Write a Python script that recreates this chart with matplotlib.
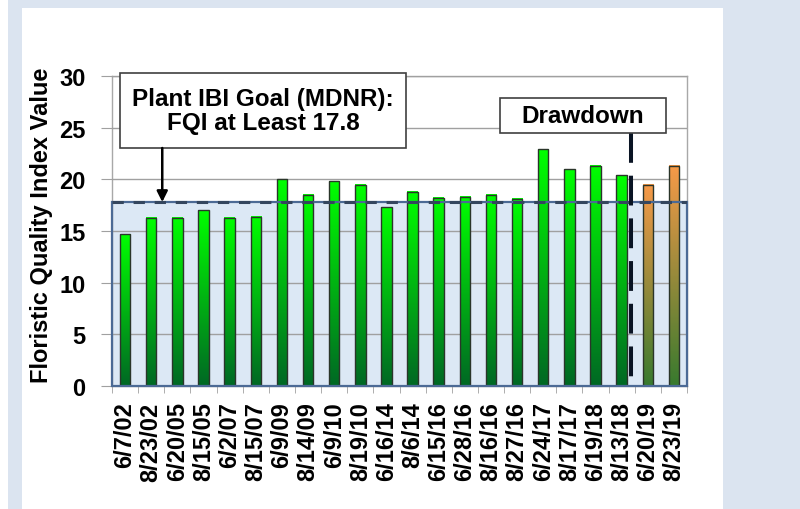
import numpy as np
import matplotlib.pyplot as plt
from matplotlib.patches import Rectangle
from matplotlib.colors import to_rgb

plt.rcParams['font.family'] = ['Liberation Sans', 'DejaVu Sans']
plt.rcParams['font.weight'] = 'bold'

dates = ['6/7/02', '8/23/02', '6/20/05', '8/15/05', '6/2/07', '8/15/07',
         '6/9/09', '8/14/09', '6/9/10', '8/19/10', '6/16/14', '8/6/14',
         '6/15/16', '6/28/16', '8/16/16', '8/27/16', '6/24/17', '8/17/17',
         '6/19/18', '8/13/18', '6/20/19', '8/23/19']
fqi = [14.7, 16.3, 16.3, 17.0, 16.3, 16.4, 20.0, 18.5, 19.8, 19.5, 17.3,
       18.8, 18.2, 18.3, 18.5, 18.1, 22.9, 21.0, 21.3, 20.4, 19.5, 21.3]
post_drawdown = [False] * 20 + [True] * 2
goal = 17.8
drawdown_after = 19  # index of last sample before drawdown

fig = plt.figure(figsize=(8, 5.1), dpi=100)
fig.patch.set_facecolor('#dbe4f0')
# white panel and thin white strip on the far left
fig.patches.append(Rectangle((22 / 800, 0), 701 / 800, 501 / 510,
                             transform=fig.transFigure, facecolor='white',
                             edgecolor='none', zorder=-10))
fig.patches.append(Rectangle((0, 0), 8 / 800, 1, transform=fig.transFigure,
                             facecolor='white', edgecolor='none', zorder=-10))

ax = fig.add_axes([112 / 800, 123 / 510, 575 / 800, 310 / 510])
ax.set_zorder(1)
ax.set_facecolor('white')

# goal region
ax.axhspan(0, goal, facecolor='#dce8f5', edgecolor='none', zorder=1)
ax.yaxis.grid(True, color='#a0a0a0', lw=1, zorder=1.5)
ax.set_axisbelow(False)
for line in ax.get_ygridlines():
    line.set_zorder(1.5)

# gradient bars
w = 0.4


def gradient(top, bottom, n=100):
    t = np.linspace(0, 1, n)[:, None]
    a, b = np.array(to_rgb(bottom)), np.array(to_rgb(top))
    return (a + (b - a) * t)[:, None, :]


for i, (v, post) in enumerate(zip(fqi, post_drawdown)):
    if post:
        img = gradient('#f79a48', '#387a2e')
    else:
        img = gradient('#00ff00', '#006824')
    ax.imshow(img, extent=(i - w / 2, i + w / 2, 0, v), origin='lower',
              aspect='auto', zorder=3, interpolation='bilinear')
    ax.add_patch(Rectangle((i - w / 2, 0), w, v, facecolor='none',
                           edgecolor='#2a352a', lw=1, zorder=3.2))

# goal outline + dashed line
ax.add_patch(Rectangle((-0.5, 0), len(dates), goal, facecolor='none',
                       edgecolor='#4c6a95', lw=1.6, zorder=4, clip_on=False))
ax.axhline(goal, color='#34465e', lw=2.2, ls=(0, (3.7, 3.2)), zorder=4.1)

ax.set_xlim(-0.5, len(dates) - 0.5)
ax.set_ylim(0, 30)
ax.set_yticks(range(0, 31, 5))
ax.set_xticks(range(len(dates)))
ax.set_xticklabels(dates, rotation=90, fontsize=17, fontweight='bold')
ax.set_xticks(np.arange(-0.5, len(dates), 1), minor=True)
ax.tick_params(axis='x', which='major', length=0, pad=11)
ax.tick_params(axis='x', which='minor', length=5, color='#a0a0a0')
ax.tick_params(axis='y', length=8, color='#a0a0a0', pad=11, labelsize=17)
for s in ax.spines.values():
    s.set_color('#a8a8a8')
    s.set_linewidth(1)

ax.set_ylabel('Floristic Quality Index Value', fontsize=17, fontweight='bold')
ax.yaxis.set_label_coords(-0.102, 0.523)

# annotation boxes
ax.add_patch(Rectangle((0.0139, 0.7677), 0.4974, 0.242, transform=ax.transAxes,
                       facecolor='white', edgecolor='#404040', lw=1.2,
                       zorder=5, clip_on=False))
ax.text(0.2626, 0.8887, 'Plant IBI Goal (MDNR):\nFQI at Least 17.8',
        transform=ax.transAxes, ha='center', va='center', fontsize=17.5,
        fontweight='bold', linespacing=1.05, zorder=6)
ax.annotate('', xy=(0.0874, goal / 30), xytext=(0.0874, 0.7677),
            xycoords='axes fraction', textcoords='axes fraction',
            arrowprops=dict(arrowstyle='-|>', color='black', lw=1.8,
                            mutation_scale=16, shrinkA=0, shrinkB=0),
            zorder=6)

ax.add_patch(Rectangle((0.6748, 0.816), 0.2887, 0.113, transform=ax.transAxes,
                       facecolor='white', edgecolor='#404040', lw=1.2,
                       zorder=5, clip_on=False))
ax.text(0.8191, 0.8726, 'Drawdown', transform=ax.transAxes, ha='center',
        va='center', fontsize=17.5, fontweight='bold', zorder=6)

xd = drawdown_after + 0.37
ax.plot([xd, xd], [0.816 * 30, 0], color='#0a1424', lw=2.9,
        ls=(0, (7.4, 3.2)), zorder=4.5, clip_on=False)

fig.savefig('out.png', dpi=100, facecolor=fig.get_facecolor())
